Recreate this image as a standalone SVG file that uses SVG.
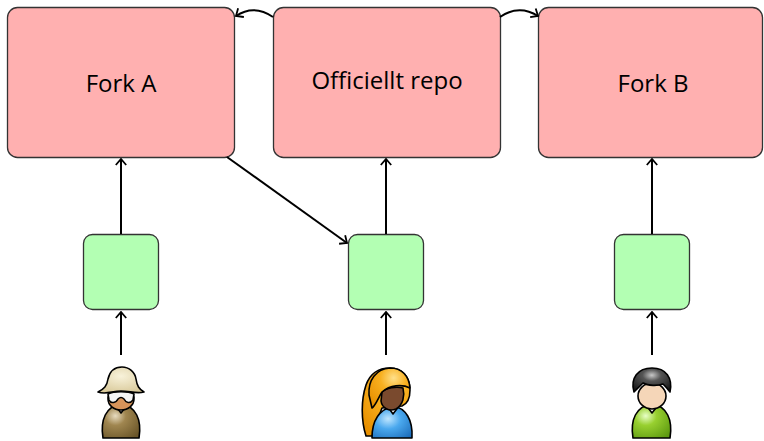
<svg xmlns="http://www.w3.org/2000/svg" width="764" height="441" viewBox="0 0 764 441">
  <style>
    .repo { fill: #ffb0b0; stroke: #333; stroke-width: 1.3; }
    .patch { fill: #b3ffb3; stroke: #333; stroke-width: 1.3; }
    .label { font-family: "Open Sans", "Liberation Sans", sans-serif; font-size: 24px; fill: #000; text-anchor: middle; }
    .conn { fill: none; stroke: #000; stroke-width: 2; }
    .ol { stroke: #000; stroke-width: 1.6; stroke-linejoin: round; }
  </style>
  <defs>
    <marker id="arrow" viewBox="0 0 10 12" refX="9" refY="6" markerWidth="5" markerHeight="6" orient="auto" markerUnits="strokeWidth">
      <path d="M3,0.8 L9,6 L3,11.2" fill="none" stroke="#000" stroke-width="1.8" stroke-linejoin="miter"/>
    </marker>
    <radialGradient id="gBrown" cx="0.35" cy="0.35" r="0.8">
      <stop offset="0" stop-color="#e8dcc0"/>
      <stop offset="0.35" stop-color="#a08650"/>
      <stop offset="1" stop-color="#6a5528"/>
    </radialGradient>
    <radialGradient id="gHat" cx="0.5" cy="0.35" r="0.7">
      <stop offset="0" stop-color="#f8f2da"/>
      <stop offset="1" stop-color="#d8c898"/>
    </radialGradient>
    <radialGradient id="gBlue" cx="0.4" cy="0.4" r="0.8">
      <stop offset="0" stop-color="#bfe6ff"/>
      <stop offset="0.4" stop-color="#4aa8ee"/>
      <stop offset="1" stop-color="#1a6ab8"/>
    </radialGradient>
    <radialGradient id="gHair" cx="0.6" cy="0.25" r="0.8">
      <stop offset="0" stop-color="#ffe08a"/>
      <stop offset="0.4" stop-color="#f8b020"/>
      <stop offset="1" stop-color="#e89000"/>
    </radialGradient>
    <radialGradient id="gDark" cx="0.5" cy="0.3" r="0.7">
      <stop offset="0" stop-color="#c8c8c8"/>
      <stop offset="0.35" stop-color="#555"/>
      <stop offset="1" stop-color="#1a1a1a"/>
    </radialGradient>
    <radialGradient id="gGreen" cx="0.35" cy="0.35" r="0.8">
      <stop offset="0" stop-color="#e8ffc8"/>
      <stop offset="0.35" stop-color="#98d030"/>
      <stop offset="1" stop-color="#5e9a10"/>
    </radialGradient>
  </defs>

  <!-- repositories -->
  <g id="fork-a">
    <rect class="repo" x="7.5" y="7.5" width="227" height="150" rx="10"/>
    <text class="label" x="121" y="92">Fork A</text>
  </g>
  <g id="official-repo">
    <rect class="repo" x="273.5" y="7.5" width="227" height="150" rx="10"/>
    <text class="label" x="387" y="89" font-size="24.5">Officiellt repo</text>
  </g>
  <g id="fork-b">
    <rect class="repo" x="538.5" y="7.5" width="224" height="150" rx="10"/>
    <text class="label" x="653" y="92">Fork B</text>
  </g>

  <!-- change sets -->
  <g id="change-a">
    <rect class="patch" x="83.5" y="234.5" width="75" height="75" rx="9"/>
  </g>
  <g id="change-official">
    <rect class="patch" x="348.5" y="234.5" width="75" height="75" rx="9"/>
  </g>
  <g id="change-b">
    <rect class="patch" x="614.5" y="234.5" width="75" height="75" rx="9"/>
  </g>

  <!-- connectors -->
  <g id="connectors">
    <path class="conn" d="M273,17 Q254,4 236,16" marker-end="url(#arrow)"/>
    <path class="conn" d="M500,17 Q519,4 538,16" marker-end="url(#arrow)"/>
    <line class="conn" x1="121" y1="234" x2="121" y2="159" marker-end="url(#arrow)"/>
    <line class="conn" x1="386" y1="234" x2="386" y2="159" marker-end="url(#arrow)"/>
    <line class="conn" x1="652" y1="234" x2="652" y2="159" marker-end="url(#arrow)"/>
    <line class="conn" x1="121" y1="355" x2="121" y2="312" marker-end="url(#arrow)"/>
    <line class="conn" x1="386" y1="355" x2="386" y2="312" marker-end="url(#arrow)"/>
    <line class="conn" x1="652" y1="355" x2="652" y2="312" marker-end="url(#arrow)"/>
    <line class="conn" x1="227" y1="157" x2="347" y2="243" marker-end="url(#arrow)"/>
  </g>

  <!-- contributor with hat -->
  <g id="user-a">
    <path class="ol" fill="url(#gBrown)" d="M103,438 C100,420 106,406 121,404 C136,406 142,420 139,438 Z"/>
    <path class="ol" fill="#fff" stroke-width="1" d="M115,405 L121,413 L128,404 Z"/>
    <ellipse class="ol" fill="#d8945a" cx="121" cy="399" rx="13" ry="11"/>
    <path class="ol" fill="#f4f4f4" stroke-width="1.2" d="M108,394 C114,391 128,391 134,394 L133,400 C130,404 126,403 124,399 C122,397 120,397 118,399 C116,403 111,404 109,400 Z"/>
    <path class="ol" fill="url(#gHat)" d="M98,392 C104,389 107,386 108,379 C110,370 116,367 122,367 C129,367 135,372 136,379 C137,386 139,389 144,392 C136,394 130,391 121,391 C112,391 106,395 98,392 Z"/>
  </g>

  <!-- contributor with long hair -->
  <g id="user-official">
    <path class="ol" fill="url(#gHair)" d="M366,436 C361,420 361,400 366,385 C371,371 381,368 390,368 C402,368 410,377 410,390 C410,398 407,404 402,406 L382,408 C378,418 376,428 372,436 Z"/>
    <path class="ol" fill="url(#gBlue)" d="M372,438 C372,422 378,410 393,406 C406,408 413,420 412,438 Z"/>
    <path class="ol" fill="#fff" stroke-width="1" d="M388,407 L393,414 L399,406 Z"/>
    <path class="ol" fill="#7a4a2e" d="M382,392 C386,388 396,386 403,388 C405,396 403,405 396,409 C389,412 382,408 381,401 Z"/>
    <path class="ol" fill="url(#gHair)" d="M369,395 C368,380 376,369 390,368 C402,368 409,376 410,388 C402,384 390,385 382,392 C378,398 376,405 372,408 Z" stroke="none"/>
  </g>

  <!-- contributor with dark hair -->
  <g id="user-b">
    <path class="ol" fill="url(#gGreen)" d="M633,438 C630,420 636,406 652,404 C667,406 673,420 670,438 Z"/>
    <path class="ol" fill="#fff" stroke-width="1" d="M646,405 L652,413 L659,404 Z"/>
    <ellipse class="ol" fill="#f5d6b8" cx="652" cy="396" rx="14" ry="13"/>
    <path class="ol" fill="url(#gDark)" d="M634,392 C630,378 638,368 652,368 C666,368 673,378 670,392 C667,388 665,386 663,384 C658,386 648,386 643,383 C640,386 637,389 634,392 Z"/>
  </g>
</svg>
